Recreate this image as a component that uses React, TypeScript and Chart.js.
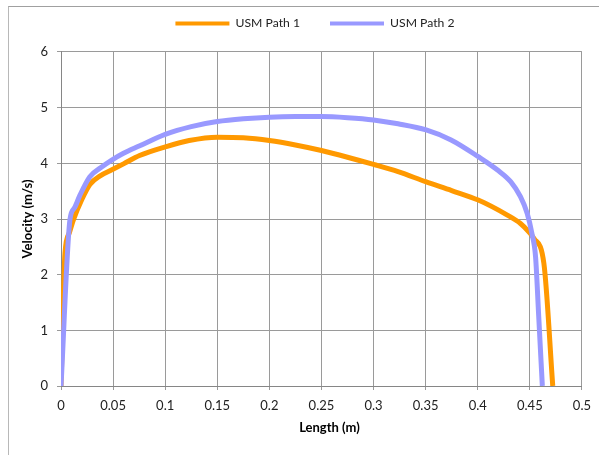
import React, { useEffect, useRef } from 'react';
import { Chart, registerables } from 'chart.js';

Chart.register(...registerables);

const SERIES_NAMES = ['USM Path 1', 'USM Path 2'];

const PATH1_X = [0, 0.0038, 0.008, 0.0118, 0.02, 0.0277, 0.038, 0.0484, 0.06, 0.0754, 0.1008, 0.123, 0.15, 0.175, 0.2, 0.225, 0.25, 0.275, 0.3, 0.3235, 0.35, 0.375, 0.4005, 0.4284, 0.441, 0.449, 0.454, 0.4635, 0.472];
const PATH1_Y = [0, 2.38, 2.75, 2.98, 3.35, 3.62, 3.78, 3.88, 3.99, 4.14, 4.3, 4.41, 4.47, 4.46, 4.41, 4.33, 4.23, 4.11, 3.98, 3.85, 3.67, 3.51, 3.34, 3.07, 2.92, 2.77, 2.65, 2.2, 0];

const PATH2_X = [0, 0.0086, 0.013, 0.018, 0.0277, 0.038, 0.048, 0.06, 0.075, 0.1, 0.125, 0.15, 0.175, 0.2, 0.225, 0.25, 0.275, 0.3, 0.3235, 0.3505, 0.3744, 0.4005, 0.419, 0.4316, 0.441, 0.4475, 0.452, 0.4555, 0.4585, 0.462];
const PATH2_Y = [0, 2.99, 3.2, 3.42, 3.76, 3.92, 4.05, 4.18, 4.31, 4.52, 4.66, 4.75, 4.8, 4.83, 4.84, 4.84, 4.82, 4.78, 4.71, 4.6, 4.42, 4.12, 3.88, 3.67, 3.4, 3.1, 2.74, 2.32, 1.26, 0];

const X_TICK_LABELS = ['0', '0.05', '0.1', '0.15', '0.2', '0.25', '0.3', '0.35', '0.4', '0.45', '0.5'];
const Y_TICK_LABELS = ['0', '1', '2', '3', '4', '5', '6'];

const X_TITLE = 'Length (m)';
const Y_TITLE = 'Velocity (m/s)';

const COLORS = ['#FF9900', '#9999FF'];

const toPoints = (xs: number[], ys: number[]) => xs.map((x, i) => ({ x, y: ys[i] }));

export default function App() {
  const canvasRef = useRef<HTMLCanvasElement | null>(null);

  useEffect(() => {
    if (!canvasRef.current) return;
    const legendTweak = {
      id: 'legendTweak',
      beforeInit(chart: any) {
        const orig = chart.legend.fit;
        chart.legend.fit = function () {
          orig.call(this);
          this.height = 64.6;
        };
      },
      afterLayout(chart: any) {
        const lg = chart.legend;
        lg.left += 18;
        lg.right += 18;
      },
    };
    const xTitle = {
      id: 'xTitle',
      afterDraw(chart: any) {
        const { ctx, chartArea } = chart;
        ctx.save();
        ctx.font = 'bold 13px Lato';
        ctx.fillStyle = '#000';
        ctx.textAlign = 'center';
        ctx.textBaseline = 'middle';
        ctx.fillText(X_TITLE, (chartArea.left + chartArea.right) / 2 + 8, chartArea.bottom + 42);
        ctx.restore();
      },
    };
    const gridColor = '#9a9a9a';
    const chart = new Chart(canvasRef.current, {
      type: 'line',
      data: {
        datasets: [
          {
            label: SERIES_NAMES[0],
            data: toPoints(PATH1_X, PATH1_Y),
            borderColor: COLORS[0],
            backgroundColor: COLORS[0],
            borderWidth: 5,
            pointRadius: 0,
            cubicInterpolationMode: 'monotone',
            order: 1,
          },
          {
            label: SERIES_NAMES[1],
            data: toPoints(PATH2_X, PATH2_Y),
            borderColor: COLORS[1],
            backgroundColor: COLORS[1],
            borderWidth: 5,
            pointRadius: 0,
            cubicInterpolationMode: 'monotone',
            order: 0,
          },
        ],
      },
      options: {
        animation: false,
        responsive: false,
        devicePixelRatio: 1,
        layout: { padding: { left: 0, right: 14, top: -19.6, bottom: 0 } },
        font: { family: 'Lato' },
        plugins: {
          tooltip: { enabled: false },
          legend: {
            position: 'top',
            labels: {
              boxWidth: 54,
              boxHeight: 4,
              padding: 30,
              color: '#222',
              font: { family: 'Lato', size: 12.2 },
              sort: (a: any, b: any) => a.datasetIndex - b.datasetIndex,
              generateLabels: (c: any) =>
                Chart.defaults.plugins.legend.labels.generateLabels(c).map((it: any) => ({
                  ...it,
                  lineWidth: 0,
                  fillStyle: it.strokeStyle,
                })),
            },
          },
        },
        scales: {
          x: {
            type: 'linear',
            min: 0,
            max: 0.5,
            afterFit: (s: any) => { s.height = 69; },
            ticks: {
              stepSize: 0.05,
              padding: 8,
              color: '#222',
              font: { family: 'Lato', size: 13 },
              callback: (_v: any, i: number) => X_TICK_LABELS[i],
              maxRotation: 0,
              autoSkip: false,
            },
            grid: { color: gridColor, tickColor: gridColor, tickLength: 4, lineWidth: 1 },
            border: { color: '#868686' },
            title: { display: false, text: X_TITLE },
          },
          y: {
            type: 'linear',
            min: 0,
            max: 6,
            afterFit: (s: any) => { s.width = 52; },
            ticks: {
              stepSize: 1,
              padding: 9,
              color: '#222',
              font: { family: 'Lato', size: 13 },
              callback: (_v: any, i: number) => Y_TICK_LABELS[i],
            },
            grid: { color: gridColor, tickColor: gridColor, tickLength: 4, lineWidth: 1 },
            border: { color: '#868686' },
            title: {
              display: true,
              text: Y_TITLE,
              color: '#000',
              font: { family: 'Lato', size: 13, weight: 'bold' },
              padding: { top: 11, bottom: 0 },
            },
          },
        },
      },
      plugins: [legendTweak, xTitle],
    } as any);
    return () => chart.destroy();
  }, []);

  return (
    <div
      style={{
        position: 'fixed',
        left: 8,
        top: 6,
        width: 591,
        height: 449,
        borderTop: '1px solid #a0a0a0',
        borderLeft: '1px solid #b8b8b8',
        boxSizing: 'border-box',
        background: '#fff',
      }}
    >
      <canvas ref={canvasRef} width={590} height={448} style={{ display: 'block', width: 590, height: 448 }} />
    </div>
  );
}
